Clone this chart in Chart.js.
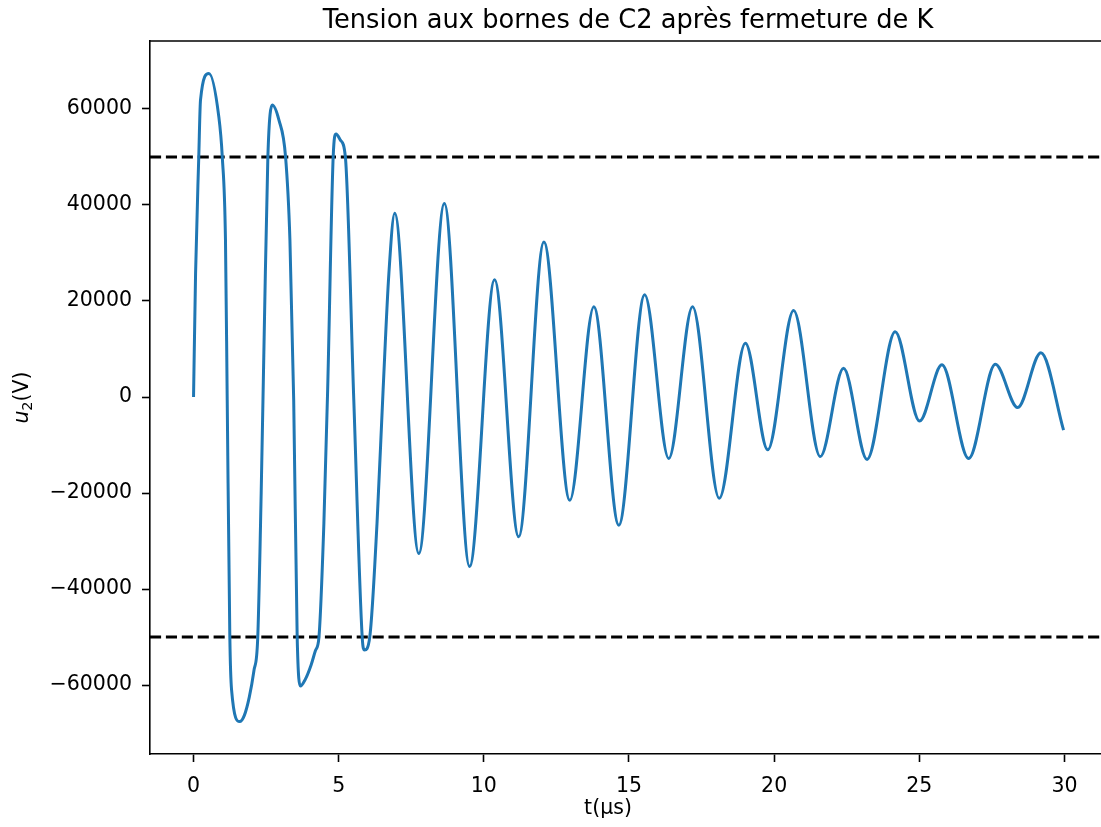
<!DOCTYPE html>
<html>
<head>
<meta charset="utf-8">
<title>Tension aux bornes de C2</title>
<script src="https://cdn.jsdelivr.net/npm/chart.js@4"></script>
<style>
    html, body { margin: 0; padding: 0; background: #fff; overflow: hidden; }
    canvas { display: block; }
</style>
</head>
<body>
<canvas id="tensionChart" width="1101" height="827"></canvas>
<script>
// t in microseconds, u2 in volts
const tValues = [
    0, 0.07, 0.18, 0.24, 0.53, 0.87, 0.99, 1.10, 1.16, 1.25, 1.31, 1.59, 1.75, 1.92, 2.08, 2.21, 2.33, 2.44,
    2.56, 2.71, 2.94, 3.17, 3.32, 3.45, 3.57, 3.68, 3.85, 4.05, 4.2, 4.32, 4.49, 4.62,
    4.81, 4.91, 5.06, 5.23, 5.52, 5.81, 5.89, 6.07, 6.32, 6.53, 6.73,
    6.93, 7.76, 8.64, 9.51, 10.37, 11.2, 12.07, 12.96, 13.79, 14.65, 15.54, 16.37,
    17.19, 18.11, 19.01, 19.78, 20.67, 21.59, 22.39, 23.2, 24.17, 25.01, 25.78, 26.7,
    27.62, 28.39, 29.19, 29.97
];
const u2Values = [
    0, 25800, 50000, 61900, 67400, 58400, 50000, 32700, -600, -50000, -61000, -67600, -66300, -62500, -57000, -50300, -20000, 15000,
    50000, 60800, 57700, 50000, 32700, -600, -50000, -60200, -58800, -55800, -52800, -50000, -26300, 1500,
    50000, 54800, 53500, 50000, -600, -50000, -52700, -50000, -26300, 1500, 25800,
    38300, -32600, 40300, -35300, 24400, -29100, 32300, -21500, 18800, -26700, 21300, -12800,
    18800, -21100, 11200, -11000, 18000, -12400, 6000, -13000, 13600, -5000, 6700, -12800,
    6800, -2200, 9200, -6900
];
const thresholds = [50000, -50000];
const xTickValues = [0, 5, 10, 15, 20, 25, 30];
const yTickValues = [-60000, -40000, -20000, 0, 20000, 40000, 60000];

const chartTitle = 'Tension aux bornes de C2 après fermeture de K';
const xLabel = 't(µs)';

const X_MIN = -1.5;
const X_MAX = 31.26;   // the reference is cut at the right edge
const FONT = '"DejaVu Sans", sans-serif';

document.addEventListener('DOMContentLoaded', () => {
    const curve = tValues.map((t, i) => ({ x: t, y: u2Values[i] }));

    const thresholdSets = thresholds.map(v => ({
        label: 'seuil ' + v,
        data: [{ x: X_MIN, y: v }, { x: X_MAX, y: v }],
        borderColor: '#000000',
        borderWidth: 3,
        borderDash: [11.1, 4.8],
        pointRadius: 0,
        fill: false
    }));

    // top spine, title and axis labels like matplotlib
    const decorations = {
        id: 'decorations',
        afterDraw(chart) {
            const ctx = chart.ctx;
            const area = chart.chartArea;
            ctx.save();
            ctx.strokeStyle = '#000';
            ctx.lineWidth = 1.6;
            ctx.beginPath();
            ctx.moveTo(area.left, area.top);
            ctx.lineTo(chart.width + 2, area.top);
            ctx.stroke();

            ctx.fillStyle = '#000';
            ctx.textAlign = 'center';
            ctx.textBaseline = 'alphabetic';
            ctx.font = '25.7px ' + FONT;
            ctx.fillText(chartTitle, 628, 28);

            ctx.font = '20.5px ' + FONT;
            ctx.textBaseline = 'middle';
            ctx.fillText(xLabel, 608, 809);

            // y label: italic u, subscript 2, then (V)
            ctx.translate(23, (area.top + area.bottom) / 2);
            ctx.rotate(-Math.PI / 2);
            ctx.textAlign = 'left';
            ctx.font = 'italic 20.5px ' + FONT;
            const wU = ctx.measureText('u').width;
            ctx.font = '14.5px ' + FONT;
            const w2 = ctx.measureText('2').width;
            ctx.font = '20.5px ' + FONT;
            const wV = ctx.measureText('(V)').width;
            let x0 = -(wU + w2 + wV) / 2;
            ctx.font = 'italic 20.5px ' + FONT;
            ctx.fillText('u', x0, 0);
            ctx.font = '14.5px ' + FONT;
            ctx.fillText('2', x0 + wU, 5);
            ctx.font = '20.5px ' + FONT;
            ctx.fillText('(V)', x0 + wU + w2, 0);
            ctx.restore();
        }
    };

    const ctx = document.getElementById('tensionChart').getContext('2d');
    const tensionChart = new Chart(ctx, {
        type: 'line',
        data: {
            datasets: [{
                label: 'u2',
                data: curve,
                borderColor: '#1f77b4',
                borderWidth: 3,
                pointRadius: 0,
                cubicInterpolationMode: 'monotone',
                fill: false
            }, ...thresholdSets]
        },
        options: {
            responsive: false,
            animation: false,
            devicePixelRatio: 1,
            layout: {
                padding: { top: 41, right: 0, bottom: 0, left: 0 }
            },
            plugins: {
                legend: { display: false },
                title: { display: false },
                tooltip: { enabled: false }
            },
            scales: {
                x: {
                    type: 'linear',
                    min: X_MIN,
                    max: X_MAX,
                    afterBuildTicks: scale => {
                        scale.ticks = xTickValues.map(v => ({ value: v }));
                    },
                    afterFit: scale => {
                        scale.height = 73;
                    },
                    grid: {
                        display: true,
                        drawOnChartArea: false,
                        drawTicks: true,
                        tickLength: 8,
                        tickWidth: 1.6,
                        tickColor: '#000'
                    },
                    border: { display: true, color: '#000', width: 1.6 },
                    ticks: {
                        color: '#000',
                        padding: 12,
                        maxRotation: 0,
                        font: { family: FONT, size: 20.5 },
                        callback: v => String(v)
                    }
                },
                y: {
                    type: 'linear',
                    min: -74350,
                    max: 74150,
                    afterBuildTicks: scale => {
                        scale.ticks = yTickValues.map(v => ({ value: v }));
                    },
                    afterFit: scale => {
                        scale.width = 150;
                    },
                    grid: {
                        display: true,
                        drawOnChartArea: false,
                        drawTicks: true,
                        tickLength: 8,
                        tickWidth: 1.6,
                        tickColor: '#000'
                    },
                    border: { display: true, color: '#000', width: 1.6 },
                    ticks: {
                        color: '#000',
                        padding: 10,
                        font: { family: FONT, size: 20.5 },
                        callback: v => (v < 0 ? '\u2212' + Math.abs(v) : String(v))
                    }
                }
            }
        },
        plugins: [decorations]
    });
});
</script>
</body>
</html>
